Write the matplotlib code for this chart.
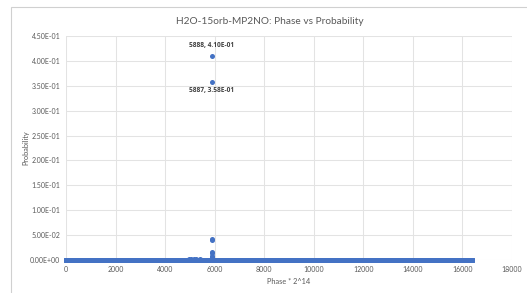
import numpy as np
import matplotlib
matplotlib.use("Agg")
import matplotlib.pyplot as plt
from matplotlib.patches import Rectangle

plt.rcParams['font.family'] = ['Lato', 'DejaVu Sans']

# dane: faza (0 .. 2^14-1) i prawdopodobienstwo, prawie wszedzie ~0
n_phase = 2 ** 14
peak_phase = [5884, 5885, 5886, 5887, 5888, 5889, 5890, 5891]
peak_prob = [0.006, 0.016, 0.041, 0.358, 0.410, 0.043, 0.015, 0.008]
bump_phase = [4960, 5050, 5150, 5230, 5400]
bump_prob = [0.002, 0.002, 0.003, 0.002, 0.003]

x_ticks = [0, 2000, 4000, 6000, 8000, 10000, 12000, 14000, 16000, 18000]
y_ticks = [0.0, 0.05, 0.10, 0.15, 0.20, 0.25, 0.30, 0.35, 0.40, 0.45]

phase = np.arange(n_phase)
prob = np.zeros(n_phase)
prob[bump_phase] = bump_prob
prob[peak_phase] = peak_prob

blue = "#4472C4"
txt = "#595959"
W, H = 527, 293

fig = plt.figure(figsize=(W / 100, H / 100), dpi=100)
fig.patches.append(Rectangle((10.5 / W, -0.1), 1.2, 1 - 6.5 / H + 0.1,
                             transform=fig.transFigure, fill=False,
                             edgecolor="#D0D0D0", linewidth=0.8))

ax = fig.add_axes([66 / W, (H - 260) / H, 446 / W, 224 / H])
ax.scatter(phase, prob, s=13, color=blue, linewidths=0, zorder=3, clip_on=False)

ax.set_xlim(0, 18000)
ax.set_ylim(0, 0.45)
ax.set_xticks(x_ticks)
ax.set_yticks(y_ticks)
ax.set_yticklabels(["%.2E" % v for v in y_ticks])
ax.grid(True, color="#E3E3E3", linewidth=0.75)
ax.set_axisbelow(True)
for s in ax.spines.values():
    s.set_visible(False)
ax.tick_params(length=0, labelsize=5, colors=txt, pad=4)

# opisy punktow maksymalnych
lab = dict(ha="center", fontsize=4.8, fontweight="bold", color="#404040",
           family=["Open Sans", "DejaVu Sans"], textcoords="offset points")
ax.annotate("5888, 4.10E-01", (5888, 0.410), xytext=(0, 5), va="bottom", **lab)
ax.annotate("5887, 3.58E-01", (5887, 0.358), xytext=(0, -4), va="top", **lab)

fig.text(270 / W, 1 - 21 / H, "H2O-15orb-MP2NO: Phase vs Probability",
         ha="center", va="center", fontsize=7.3, color=txt)
fig.text(289 / W, 1 - 282 / H, "Phase * 2^14", ha="center", va="center",
         fontsize=5.3, color=txt)
fig.text(26 / W, 1 - 148 / H, "Probability", ha="center", va="center",
         rotation=90, fontsize=5.3, color=txt)

fig.savefig("out.png", dpi=100)
